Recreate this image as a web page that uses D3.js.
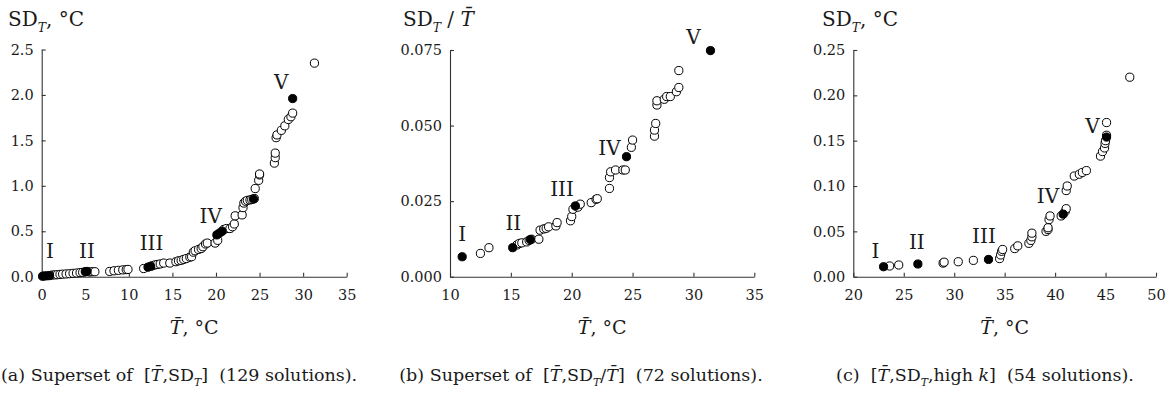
<!DOCTYPE html>
<html>
<head>
<meta charset="utf-8">
<script src="https://cdn.jsdelivr.net/npm/d3@7"></script>
<style>
  body { margin: 0; background: #fff; }
  text { font-family: "DejaVu Serif", serif; fill: #1a1a1a; white-space: pre; }
</style>
</head>
<body>
<svg id="chart" width="1169" height="394"></svg>
<script>
const romans = ['I', 'II', 'III', 'IV', 'V'];

// (a) superset of [T, SD_T]
const aOpenT = [1.2, 1.5, 1.8, 2.1, 2.4, 2.8, 3.2, 3.6, 4.0, 4.4, 4.7, 5.5, 5.8, 6.1,
  7.8, 8.3, 8.8, 9.3, 9.7, 9.9, 11.7, 12.7, 13.0, 13.3, 13.6, 14.0, 14.7, 15.4, 15.7,
  16.0, 16.3, 16.6, 17.0, 17.2, 17.4, 17.6, 18.0, 18.3, 18.5, 18.8, 19.0, 19.9, 20.2,
  20.9, 21.2, 21.6, 21.9, 22.1, 22.2, 23.0, 23.1, 23.2, 23.4, 23.6, 23.9, 24.1, 24.4,
  24.5, 24.9, 25.0, 25.0, 26.7, 26.8, 26.8, 26.9, 27.0, 27.5, 27.9, 28.3, 28.6, 28.8, 31.3];
const aOpenSD = [0.018, 0.02, 0.022, 0.025, 0.028, 0.03, 0.033, 0.037, 0.04, 0.045, 0.048,
  0.052, 0.055, 0.055, 0.058, 0.065, 0.07, 0.075, 0.078, 0.08, 0.09, 0.12, 0.13, 0.135,
  0.14, 0.15, 0.15, 0.165, 0.175, 0.18, 0.19, 0.2, 0.215, 0.22, 0.27, 0.285, 0.3, 0.31,
  0.33, 0.36, 0.37, 0.37, 0.4, 0.52, 0.53, 0.53, 0.55, 0.58, 0.67, 0.68, 0.76, 0.81, 0.83,
  0.84, 0.845, 0.85, 0.86, 0.97, 1.06, 1.12, 1.13, 1.25, 1.31, 1.36, 1.53, 1.56, 1.61,
  1.66, 1.73, 1.76, 1.80, 2.35];
const aFillT = [0.1, 0.3, 0.6, 0.9, 5.0, 5.2, 12.2, 12.5, 20.1, 20.4, 20.7, 24.3, 28.8];
const aFillSD = [0.005, 0.008, 0.01, 0.012, 0.055, 0.058, 0.105, 0.115, 0.46, 0.48, 0.5, 0.855, 1.96];
const aLabelT = [0.95, 5.2, 12.6, 19.4, 27.5];
const aLabelSD = [0.21, 0.21, 0.29, 0.59, 2.07];
const aXTicks = [0, 5, 10, 15, 20, 25, 30, 35];
const aYTicks = [0, 0.5, 1.0, 1.5, 2.0, 2.5];

// (b) superset of [T, SD_T / T]
const bOpenT = [12.5, 13.2, 15.5, 15.7, 15.9, 16.3, 16.5, 16.7, 17.3, 17.4, 17.7, 17.9,
  18.1, 18.7, 18.8, 19.9, 20.0, 20.1, 20.5, 20.7, 21.6, 22.0, 22.1, 23.1, 23.1, 23.2,
  23.6, 24.2, 24.4, 24.9, 25.0, 26.8, 26.8, 26.9, 27.0, 27.0, 27.6, 27.8, 28.1, 28.6, 28.8, 28.8];
const bOpenRatio = [0.0077, 0.0096, 0.0105, 0.011, 0.0112, 0.0115, 0.012, 0.0124, 0.0124,
  0.0154, 0.0158, 0.016, 0.0165, 0.0168, 0.0179, 0.0185, 0.0199, 0.0223, 0.023, 0.024,
  0.0245, 0.0256, 0.0258, 0.0292, 0.0328, 0.0347, 0.0353, 0.0353, 0.0353, 0.0428, 0.0452,
  0.0465, 0.0485, 0.0507, 0.0568, 0.0582, 0.0587, 0.0596, 0.0596, 0.0612, 0.0626, 0.0682];
const bFillT = [11.0, 15.15, 16.6, 20.3, 24.5, 31.4];
const bFillRatio = [0.0066, 0.0096, 0.0123, 0.0234, 0.0397, 0.0748];
const bLabelT = [11.0, 15.2, 19.2, 23.1, 30.0];
const bLabelRatio = [0.0119, 0.0154, 0.0267, 0.0403, 0.0769];
const bXTicks = [10, 15, 20, 25, 30, 35];
const bYTicks = [0, 0.025, 0.05, 0.075];

// (c) [T, SD_T, high k]
const cOpenT = [23.6, 24.5, 28.9, 29.0, 30.4, 31.9, 34.5, 34.6, 34.7, 34.8, 36.0, 36.3,
  37.4, 37.6, 37.7, 37.7, 39.1, 39.3, 39.3, 39.4, 39.5, 40.6, 41.0, 41.1, 41.1, 41.2,
  41.9, 42.4, 42.7, 43.1, 44.5, 44.7, 44.9, 44.95, 45.0, 45.1, 45.1, 47.4];
const cOpenSD = [0.0118, 0.0129, 0.015, 0.016, 0.0165, 0.018, 0.02, 0.024, 0.028, 0.03,
  0.031, 0.034, 0.0368, 0.04, 0.044, 0.048, 0.05, 0.052, 0.054, 0.063, 0.067, 0.067,
  0.072, 0.075, 0.095, 0.1, 0.111, 0.113, 0.115, 0.117, 0.133, 0.138, 0.142, 0.147,
  0.15, 0.156, 0.17, 0.22];
const cFillT = [23.0, 26.4, 33.4, 40.8, 45.1];
const cFillSD = [0.011, 0.014, 0.019, 0.069, 0.154];
const cLabelT = [22.2, 26.3, 32.95, 39.3, 43.7];
const cLabelSD = [0.021, 0.030, 0.037, 0.081, 0.158];
const cXTicks = [20, 25, 30, 35, 40, 45, 50];
const cYTicks = [0, 0.05, 0.10, 0.15, 0.20, 0.25];

const TBAR = 'T\u0304';
const svg = d3.select('#chart');

// Append text built from parts: {t, it (italic), sub (subscript), after (back to baseline)}.
function richText(sel, parts, size) {
  parts.forEach(p => {
    const ts = sel.append('tspan').text(p.t);
    if (p.it) ts.attr('font-style', 'italic');
    if (p.sub) {
      ts.attr('font-size', size * 0.62).attr('dy', size * 0.28);
    } else if (p.after) {
      ts.attr('dy', -size * 0.28);
    }
  });
}

function drawPanel(cfg) {
  const x = d3.scaleLinear().domain(cfg.xDomain).range([cfg.left, cfg.right]);
  const y = d3.scaleLinear().domain(cfg.yDomain).range([cfg.bottom, cfg.top]);
  const g = svg.append('g');

  const xAxis = g.append('g')
      .attr('transform', `translate(0,${cfg.bottom})`)
      .call(d3.axisBottom(x).tickValues(cfg.xTicks).tickSizeInner(-4)
          .tickSizeOuter(0).tickPadding(13).tickFormat(d3.format('d')));
  const yAxis = g.append('g')
      .attr('transform', `translate(${cfg.left},0)`)
      .call(d3.axisLeft(y).tickValues(cfg.yTicks).tickSizeInner(-4)
          .tickSizeOuter(0).tickPadding(8).tickFormat(d3.format(cfg.yFmt)));
  [xAxis, yAxis].forEach(a => {
    a.selectAll('path, line').attr('stroke', '#333').attr('stroke-width', 1.1);
    a.selectAll('text').attr('font-family', '"DejaVu Serif", serif')
        .attr('font-size', 14.5).attr('fill', '#1a1a1a');
  });

  // Points: open first, filled on top.
  g.selectAll('circle.open').data(d3.range(cfg.openT.length)).join('circle')
      .attr('class', 'open')
      .attr('cx', i => x(cfg.openT[i])).attr('cy', i => y(cfg.openY[i]))
      .attr('r', 4.1).attr('fill', '#fff').attr('stroke', '#000').attr('stroke-width', 1);
  g.selectAll('circle.fill').data(d3.range(cfg.fillT.length)).join('circle')
      .attr('class', 'fill')
      .attr('cx', i => x(cfg.fillT[i])).attr('cy', i => y(cfg.fillY[i]))
      .attr('r', 4.1).attr('fill', '#000').attr('stroke', '#000').attr('stroke-width', 1);

  // Roman numeral markers.
  g.selectAll('text.roman').data(romans).join('text')
      .attr('class', 'roman')
      .attr('x', (d, i) => x(cfg.labelT[i])).attr('y', (d, i) => y(cfg.labelY[i]))
      .attr('text-anchor', 'middle').attr('font-size', 20).text(d => d);

  // Y title.
  richText(g.append('text').attr('x', cfg.yTitleX).attr('y', 26).attr('font-size', 20),
      cfg.yTitle, 20);

  // X title.
  richText(g.append('text').attr('x', (cfg.left + cfg.right) / 2).attr('y', 334)
      .attr('text-anchor', 'middle').attr('font-size', 19),
      [{t: TBAR, it: true}, {t: ', °C'}], 19);

  // Caption.
  richText(g.append('text').attr('x', cfg.captionX).attr('y', 381)
      .attr('text-anchor', cfg.captionAnchor).attr('font-size', 17.5),
      cfg.caption, 17.5);
}

drawPanel({
  left: 41.7, right: 346.7, top: 49.5, bottom: 276.7,
  xDomain: [0, 35], yDomain: [0, 2.5], xTicks: aXTicks, yTicks: aYTicks, yFmt: '.1f',
  openT: aOpenT, openY: aOpenSD, fillT: aFillT, fillY: aFillSD,
  labelT: aLabelT, labelY: aLabelSD,
  yTitleX: 8,
  yTitle: [{t: 'SD'}, {t: 'T', it: true, sub: true}, {t: ', °C', after: true}],
  captionX: 1, captionAnchor: 'start',
  caption: [{t: '(a) Superset of  ['}, {t: TBAR, it: true}, {t: ',SD'},
    {t: 'T', it: true, sub: true}, {t: ']  (129 solutions).', after: true}]
});

drawPanel({
  left: 450, right: 754.3, top: 50, bottom: 276.7,
  xDomain: [10, 35], yDomain: [0, 0.075], xTicks: bXTicks, yTicks: bYTicks, yFmt: '.3f',
  openT: bOpenT, openY: bOpenRatio, fillT: bFillT, fillY: bFillRatio,
  labelT: bLabelT, labelY: bLabelRatio,
  yTitleX: 403,
  yTitle: [{t: 'SD'}, {t: 'T', it: true, sub: true}, {t: ' / ', after: true}, {t: TBAR, it: true}],
  captionX: 581, captionAnchor: 'middle',
  caption: [{t: '(b) Superset of  ['}, {t: TBAR, it: true}, {t: ',SD'},
    {t: 'T', it: true, sub: true}, {t: '/', after: true}, {t: TBAR, it: true},
    {t: ']  (72 solutions).'}]
});

drawPanel({
  left: 853.3, right: 1156, top: 50, bottom: 276.7,
  xDomain: [20, 50], yDomain: [0, 0.25], xTicks: cXTicks, yTicks: cYTicks, yFmt: '.2f',
  openT: cOpenT, openY: cOpenSD, fillT: cFillT, fillY: cFillSD,
  labelT: cLabelT, labelY: cLabelSD,
  yTitleX: 822,
  yTitle: [{t: 'SD'}, {t: 'T', it: true, sub: true}, {t: ', °C', after: true}],
  captionX: 985, captionAnchor: 'middle',
  caption: [{t: '(c)  ['}, {t: TBAR, it: true}, {t: ',SD'},
    {t: 'T', it: true, sub: true}, {t: ',high ', after: true}, {t: 'k', it: true},
    {t: ']  (54 solutions).'}]
});
</script>
</body>
</html>
